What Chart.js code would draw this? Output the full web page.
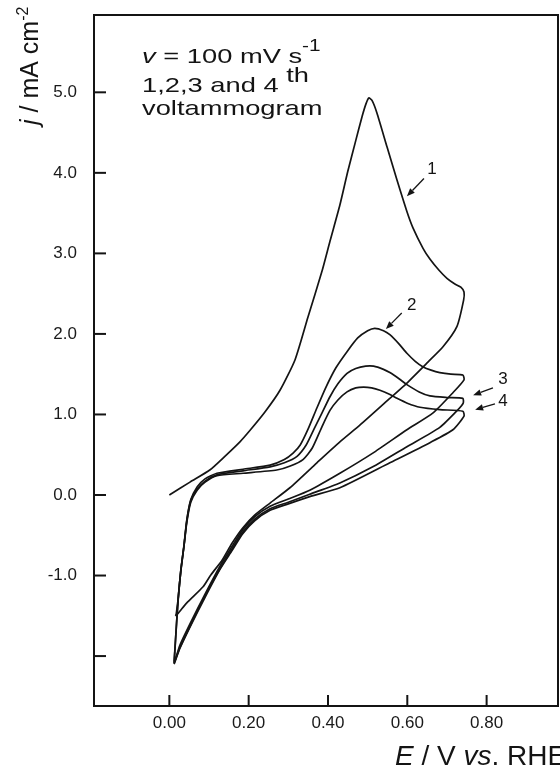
<!DOCTYPE html>
<html><head><meta charset="utf-8">
<script src="https://cdn.jsdelivr.net/npm/chart.js@4"></script>
<style>html,body{margin:0;padding:0;background:#fff}#wrap{width:560px;height:769px;position:relative}</style>
</head><body><div id="wrap"><canvas id="c"></canvas></div>
<script>
// ---- data (E / V vs. RHE, j / mA cm-2) ----
const cycle1E = [0.000, 0.052, 0.102, 0.140, 0.178, 0.203, 0.241, 0.279, 0.317, 0.349, 0.385, 0.405, 0.430, 0.450, 0.470, 0.486, 0.496, 0.503, 0.511, 0.523, 0.549, 0.574, 0.599, 0.614, 0.640, 0.657, 0.680, 0.700, 0.720, 0.735, 0.743,
                 0.742, 0.725, 0.690, 0.652, 0.599, 0.556, 0.481, 0.430, 0.372, 0.304, 0.254, 0.215, 0.185, 0.158, 0.133, 0.105, 0.085, 0.044, 0.022, 0.015];
const cycle1J = [0.00, 0.16, 0.31, 0.48, 0.66, 0.80, 1.03, 1.30, 1.68, 2.20, 2.78, 3.15, 3.60, 4.02, 4.40, 4.70, 4.86, 4.93, 4.90, 4.75, 4.32, 3.91, 3.52, 3.32, 3.06, 2.93, 2.79, 2.69, 2.62, 2.58, 2.52,
                 2.42, 2.09, 1.84, 1.65, 1.39, 1.20, 0.87, 0.66, 0.40, 0.09, -0.10, -0.25, -0.41, -0.60, -0.81, -0.99, -1.14, -1.34, -1.47, -1.50];

const cycle2E = [0.017, 0.022, 0.029, 0.037, 0.044, 0.054, 0.070, 0.090, 0.120, 0.186, 0.254, 0.290, 0.312, 0.330, 0.350, 0.372, 0.395, 0.420, 0.448, 0.475, 0.500, 0.518, 0.540, 0.556, 0.580, 0.599, 0.620, 0.640, 0.660, 0.682, 0.710, 0.740,
                 0.743, 0.715, 0.665, 0.599, 0.513, 0.430, 0.354, 0.300, 0.254, 0.215, 0.185, 0.158, 0.128, 0.090, 0.052, 0.027, 0.014];
const cycle2J = [-1.49, -1.30, -0.93, -0.62, -0.31, -0.06, 0.10, 0.20, 0.27, 0.32, 0.37, 0.44, 0.52, 0.62, 0.82, 1.08, 1.34, 1.58, 1.78, 1.95, 2.04, 2.07, 2.04, 1.99, 1.87, 1.76, 1.66, 1.59, 1.55, 1.52, 1.50, 1.49,
                 1.43, 1.27, 1.02, 0.81, 0.52, 0.27, 0.06, -0.05, -0.14, -0.27, -0.43, -0.64, -0.88, -1.23, -1.60, -1.86, -2.06];

const cycle3E = [0.012, 0.017, 0.022, 0.029, 0.037, 0.044, 0.054, 0.070, 0.090, 0.120, 0.186, 0.254, 0.290, 0.322, 0.345, 0.365, 0.385, 0.405, 0.425, 0.448, 0.470, 0.495, 0.515, 0.540, 0.556, 0.580, 0.599, 0.630, 0.657, 0.700, 0.740,
                 0.741, 0.728, 0.682, 0.599, 0.513, 0.430, 0.354, 0.300, 0.254, 0.215, 0.185, 0.158, 0.128, 0.090, 0.052, 0.027, 0.012];
const cycle3J = [-2.07, -1.68, -1.30, -0.94, -0.63, -0.32, -0.07, 0.07, 0.17, 0.25, 0.30, 0.35, 0.40, 0.48, 0.62, 0.82, 1.02, 1.22, 1.38, 1.51, 1.57, 1.60, 1.60, 1.56, 1.52, 1.44, 1.37, 1.28, 1.23, 1.21, 1.20,
                 1.14, 1.06, 0.84, 0.60, 0.35, 0.15, 0.01, -0.09, -0.17, -0.30, -0.46, -0.67, -0.91, -1.25, -1.63, -1.89, -2.09];

const cycle4E = [0.012, 0.017, 0.022, 0.029, 0.037, 0.044, 0.054, 0.070, 0.090, 0.120, 0.186, 0.271, 0.305, 0.337, 0.360, 0.385, 0.405, 0.425, 0.448, 0.470, 0.490, 0.510, 0.531, 0.555, 0.574, 0.600, 0.632, 0.682, 0.740,
                 0.743, 0.715, 0.657, 0.556, 0.430, 0.354, 0.300, 0.254, 0.215, 0.185, 0.158, 0.128, 0.090, 0.052, 0.027, 0.012];
const cycle4J = [-2.09, -1.69, -1.32, -0.94, -0.63, -0.34, -0.09, 0.06, 0.16, 0.24, 0.27, 0.31, 0.36, 0.44, 0.58, 0.85, 1.05, 1.18, 1.28, 1.33, 1.34, 1.33, 1.30, 1.25, 1.20, 1.14, 1.09, 1.06, 1.04,
                 0.98, 0.81, 0.65, 0.40, 0.09, -0.02, -0.11, -0.19, -0.32, -0.48, -0.69, -0.92, -1.27, -1.64, -1.90, -2.10];

const xTickValues = [0, 0.2, 0.4, 0.6, 0.8];
const xTickLabels = ['0.00', '0.20', '0.40', '0.60', '0.80'];
const yTickValues = [-2, -1, 0, 1, 2, 3, 4, 5];
const yTickLabels = ['', '-1.0', '0.0', '1.0', '2.0', '3.0', '4.0', '5.0'];

// curve number labels and their arrows (data units)
const curveLabels = ['1', '2', '3', '4'];
const labelE = [0.662, 0.611, 0.841, 0.841];
const labelJ = [4.04, 2.36, 1.44, 1.16];
const arrowFromE = [0.642, 0.586, 0.816, 0.821];
const arrowFromJ = [3.93, 2.26, 1.33, 1.13];
const arrowToE = [0.599, 0.546, 0.766, 0.771];
const arrowToJ = [3.71, 2.06, 1.24, 1.06];

const FONT = "'Liberation Sans', Arial, Helvetica, sans-serif";
const INK = '#141414';

function pts(E, J) { return E.map((e, i) => ({x: e, y: J[i]})); }
function ds(E, J) {
  return {data: pts(E, J), showLine: true, borderColor: INK, borderWidth: 1.7, pointRadius: 0, tension: 0.2, fill: false};
}

function drawRuns(ctx, runs, x, y, sx) {
  let cx = x;
  for (const r of runs) {
    ctx.font = r.font;
    ctx.save();
    ctx.translate(cx, y + (r.dy || 0));
    ctx.scale(sx, 1);
    ctx.fillText(r.t, 0, 0);
    ctx.restore();
    cx += ctx.measureText(r.t).width * sx;
  }
}

const deco = {
  id: 'deco',
  afterDraw(chart) {
    const {ctx, chartArea: a, scales: {x, y}} = chart;
    ctx.save();
    ctx.strokeStyle = INK; ctx.fillStyle = INK;
    ctx.lineWidth = 2;
    ctx.strokeRect(a.left, a.top, a.right - a.left, a.bottom - a.top);
    // inward tick marks
    yTickValues.forEach(v => {
      const p = y.getPixelForValue(v);
      ctx.beginPath(); ctx.moveTo(a.left, p); ctx.lineTo(a.left + 12, p); ctx.stroke();
    });
    xTickValues.forEach(v => {
      const p = x.getPixelForValue(v);
      ctx.beginPath(); ctx.moveTo(p, a.bottom); ctx.lineTo(p, a.bottom - 11); ctx.stroke();
    });
    // curve labels + arrows
    ctx.lineWidth = 1.3;
    ctx.textAlign = 'center'; ctx.textBaseline = 'middle';
    ctx.font = '17px ' + FONT;
    curveLabels.forEach((t, i) => {
      ctx.fillText(t, x.getPixelForValue(labelE[i]), y.getPixelForValue(labelJ[i]));
      const x0 = x.getPixelForValue(arrowFromE[i]), y0 = y.getPixelForValue(arrowFromJ[i]);
      const x1 = x.getPixelForValue(arrowToE[i]), y1 = y.getPixelForValue(arrowToJ[i]);
      const ang = Math.atan2(y1 - y0, x1 - x0);
      const hl = 8, hw = 3.2;
      const bx = x1 - hl * Math.cos(ang), by = y1 - hl * Math.sin(ang);
      ctx.beginPath(); ctx.moveTo(x0, y0); ctx.lineTo(bx, by); ctx.stroke();
      ctx.beginPath();
      ctx.moveTo(x1, y1);
      ctx.lineTo(bx + hw * Math.sin(ang), by - hw * Math.cos(ang));
      ctx.lineTo(bx - hw * Math.sin(ang), by + hw * Math.cos(ang));
      ctx.closePath(); ctx.fill();
    });
    // annotation text block
    ctx.textAlign = 'left'; ctx.textBaseline = 'alphabetic';
    const f = '21px ' + FONT, fi = 'italic 21px ' + FONT, fs = '16px ' + FONT;
    const tx = a.left + 48;
    drawRuns(ctx, [{t: 'v', font: fi}, {t: ' = 100 mV s', font: f}, {t: '-1', font: fs, dy: -12}], tx, a.top + 48, 1.3);
    drawRuns(ctx, [{t: '1,2,3 and 4 ', font: f}, {t: 'th', font: f, dy: -10}], tx, a.top + 77, 1.3);
    drawRuns(ctx, [{t: 'voltammogram', font: f}], tx, a.top + 100, 1.3);
    // y axis title (rotated)
    ctx.save();
    ctx.translate(38, 125);
    ctx.rotate(-Math.PI / 2);
    drawRuns(ctx, [{t: 'j', font: 'italic 25px ' + FONT}, {t: ' / mA cm', font: '25px ' + FONT}, {t: '-2', font: '16px ' + FONT, dy: -10}], 0, 0, 1);
    ctx.restore();
    // x axis title
    const xf = '28px ' + FONT, xfi = 'italic 28px ' + FONT;
    drawRuns(ctx, [{t: 'E', font: xfi}, {t: ' / V ', font: xf}, {t: 'vs', font: xfi}, {t: '. RHE', font: xf}], 395, 765, 1);
    ctx.restore();
  }
};

new Chart(document.getElementById('c'), {
  type: 'scatter',
  data: {datasets: [ds(cycle1E, cycle1J), ds(cycle2E, cycle2J), ds(cycle3E, cycle3J), ds(cycle4E, cycle4J)]},
  options: {
    responsive: true, maintainAspectRatio: false, animation: false,
    layout: {padding: {top: 15, right: 2, left: 0, bottom: 0}},
    plugins: {legend: {display: false}, tooltip: {enabled: false}},
    scales: {
      x: {
        type: 'linear', min: -0.19, max: 0.98,
        grid: {display: false, drawTicks: false}, border: {display: false},
        afterBuildTicks: s => { s.ticks = xTickValues.map(v => ({value: v})); },
        afterFit: s => { s.height = 63; s.paddingLeft = 0; s.paddingRight = 0; },
        ticks: {padding: 7, autoSkip: false, maxRotation: 0, color: '#1a1a1a', font: {family: FONT, size: 17},
                callback: (v, i) => xTickLabels[i]}
      },
      y: {
        type: 'linear', min: -2.62, max: 5.96,
        grid: {display: false, drawTicks: false}, border: {display: false},
        afterBuildTicks: s => { s.ticks = yTickValues.map(v => ({value: v})); },
        afterFit: s => { s.width = 94; s.paddingTop = 0; s.paddingBottom = 0; },
        ticks: {padding: 17, autoSkip: false, color: '#1a1a1a', font: {family: FONT, size: 17},
                callback: (v, i) => yTickLabels[i]}
      }
    }
  },
  plugins: [deco]
});
</script>
</body></html>
